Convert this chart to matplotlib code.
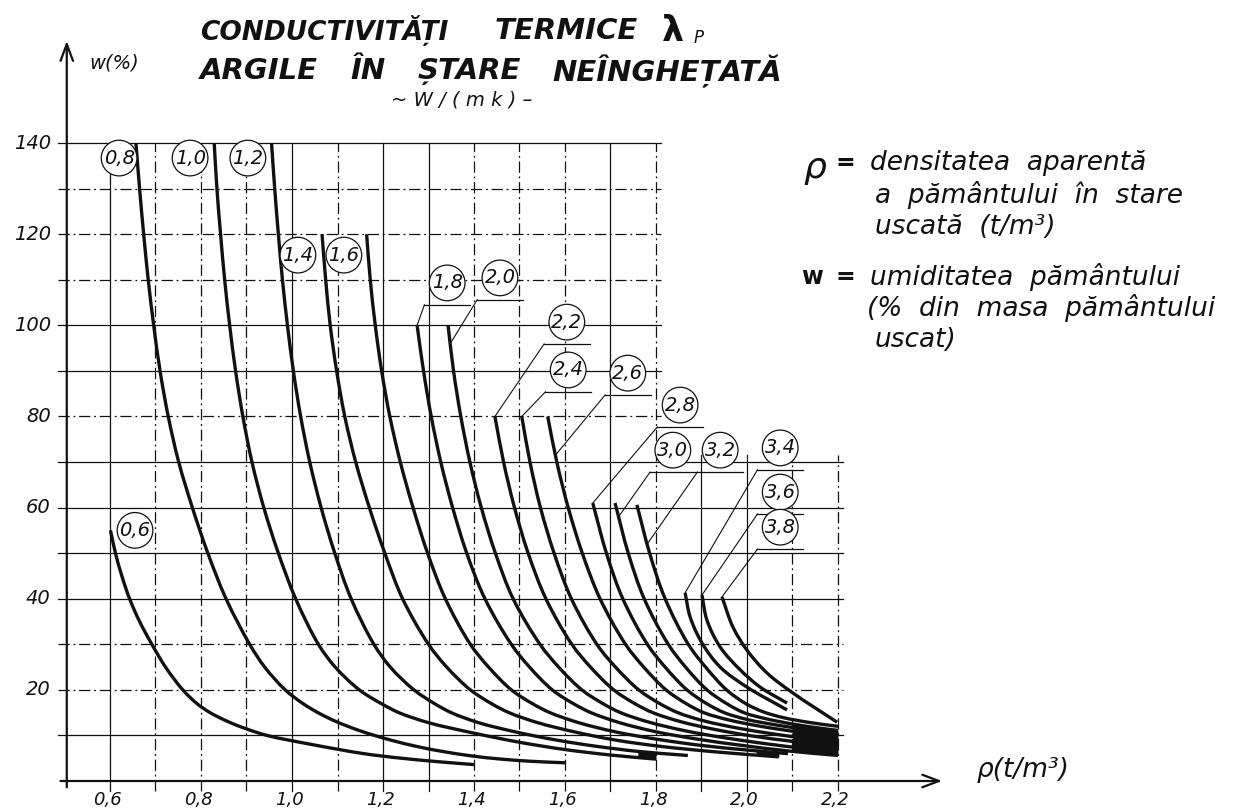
import numpy as np
import matplotlib
matplotlib.use("Agg")
import matplotlib.pyplot as plt
from matplotlib.path import Path
from matplotlib.patches import PathPatch

# ---- thermal conductivity curves (dry density rho [t/m3] vs moisture w [%]) ----
lam_labels = ["0,6", "0,8", "1,0", "1,2", "1,4", "1,6", "1,8", "2,0", "2,2",
              "2,4", "2,6", "2,8", "3,0", "3,2", "3,4", "3,6", "3,8"]

rho_06 = [0.601, 0.612, 0.626, 0.643, 0.665, 0.692, 0.722, 0.760, 0.791, 0.820,
          0.860, 0.898, 0.945, 1.044, 1.158, 1.240, 1.325, 1.400]
w_06 = [55, 50, 45, 40, 35, 30, 25, 20, 17, 15, 13, 11.5, 10, 8, 6, 5, 4.2, 3.6]

rho_08 = [0.657, 0.665, 0.674, 0.684, 0.696, 0.710, 0.728, 0.751, 0.781, 0.815,
          0.855, 0.907, 0.940, 0.985, 1.024, 1.057, 1.098, 1.150, 1.216, 1.278,
          1.330, 1.395, 1.460, 1.530, 1.600]
w_08 = [140, 130, 120, 110, 100, 90, 80, 70, 60, 50, 40, 30, 25, 20, 17, 15, 13,
        11, 9, 7.5, 6.5, 5.5, 4.8, 4.3, 4.0]

rho_10 = [0.829, 0.835, 0.843, 0.852, 0.863, 0.876, 0.892, 0.912, 0.938, 0.970,
          1.008, 1.058, 1.095, 1.148, 1.196, 1.235, 1.300, 1.400, 1.500, 1.600,
          1.700, 1.800]
w_10 = [140, 130, 120, 110, 100, 90, 80, 70, 60, 50, 40, 30, 25, 20, 17, 15,
        12.8, 10.5, 8.5, 6.9, 5.7, 4.8]

rho_12 = [0.955, 0.962, 0.970, 0.979, 0.990, 1.003, 1.019, 1.039, 1.064, 1.094,
          1.130, 1.180, 1.216, 1.268, 1.313, 1.350, 1.410, 1.490, 1.580, 1.670,
          1.760, 1.870]
w_12 = [140, 130, 120, 110, 100, 90, 80, 70, 60, 50, 40, 30, 25, 20, 17, 15,
        12.8, 10.8, 9, 7.6, 6.5, 5.6]

rho_14 = [1.066, 1.074, 1.084, 1.098, 1.116, 1.140, 1.170, 1.204, 1.243, 1.300,
          1.340, 1.392, 1.438, 1.477, 1.540, 1.620, 1.710, 1.810, 1.930, 2.070]
w_14 = [120, 110, 100, 90, 80, 70, 60, 50, 40, 30, 25, 20, 17, 15, 12.8, 10.8,
        9, 7.6, 6.4, 5.3]

rho_16 = [1.164, 1.172, 1.183, 1.197, 1.215, 1.238, 1.266, 1.298, 1.337, 1.392,
          1.432, 1.482, 1.528, 1.567, 1.630, 1.710, 1.800, 1.900, 2.000, 2.090]
w_16 = [120, 110, 100, 90, 80, 70, 60, 50, 40, 30, 25, 20, 17, 15, 12.8, 10.8,
        9.2, 7.8, 6.8, 6.0]

rho_18 = [1.275, 1.289, 1.306, 1.327, 1.353, 1.384, 1.424, 1.482, 1.522, 1.572,
          1.618, 1.657, 1.720, 1.800, 1.890, 1.990, 2.090, 2.200]
w_18 = [100, 90, 80, 70, 60, 50, 40, 30, 25, 20, 17, 15, 12.8, 10.8, 9.2, 7.8,
        6.6, 5.6]

rho_20 = [1.343, 1.355, 1.371, 1.391, 1.416, 1.447, 1.486, 1.545, 1.586, 1.637,
          1.683, 1.722, 1.785, 1.865, 1.950, 2.040, 2.130, 2.200]
w_20 = [100, 90, 80, 70, 60, 50, 40, 30, 25, 20, 17, 15, 12.9, 11, 9.5, 8.2,
        7.1, 6.4]

rho_22 = [1.446, 1.465, 1.489, 1.519, 1.558, 1.615, 1.656, 1.707, 1.753, 1.793,
          1.855, 1.930, 2.010, 2.100, 2.200]
w_22 = [80, 70, 60, 50, 40, 30, 25, 20, 17, 15, 13, 11.3, 9.9, 8.7, 7.6]

rho_24 = [1.505, 1.523, 1.546, 1.576, 1.614, 1.670, 1.711, 1.762, 1.808, 1.848,
          1.905, 1.980, 2.060, 2.140, 2.200]
w_24 = [80, 70, 60, 50, 40, 30, 25, 20, 17, 15, 13.2, 11.6, 10.3, 9.2, 8.5]

rho_26 = [1.562, 1.582, 1.607, 1.638, 1.677, 1.733, 1.773, 1.822, 1.866, 1.905,
          1.960, 2.030, 2.110, 2.200]
w_26 = [80, 70, 60, 50, 40, 30, 25, 20, 17, 15, 13.4, 12, 10.8, 9.8]

rho_28 = [1.661, 1.691, 1.727, 1.781, 1.820, 1.868, 1.911, 1.950, 2.000, 2.070,
          2.140, 2.200]
w_28 = [61, 50, 40, 30, 25, 20, 17, 15, 13.5, 12.2, 11.2, 10.5]

rho_30 = [1.710, 1.739, 1.774, 1.827, 1.865, 1.912, 1.955, 1.993, 2.040, 2.100,
          2.160, 2.200]
w_30 = [61, 50, 40, 30, 25, 20, 17, 15, 13.7, 12.5, 11.6, 11.1]

rho_32 = [1.758, 1.786, 1.820, 1.871, 1.909, 1.955, 1.997, 2.035, 2.080, 2.140, 2.200]
w_32 = [60.6, 50, 40, 30, 25, 20, 17, 15.2, 13.9, 12.8, 12.0]

rho_34 = [1.864, 1.875, 1.901, 1.941, 2.000, 2.088]
w_34 = [41.3, 36, 30.3, 25, 20.6, 15.6]

rho_36 = [1.901, 1.912, 1.941, 1.985, 2.029, 2.088]
w_36 = [40.8, 35.3, 29.4, 24.4, 20.6, 17.1]

rho_38 = [1.945, 1.969, 2.000, 2.044, 2.101, 2.198]
w_38 = [40.4, 33.8, 28.7, 23.7, 19.3, 12.9]

curves = [(rho_06, w_06), (rho_08, w_08), (rho_10, w_10), (rho_12, w_12),
          (rho_14, w_14), (rho_16, w_16), (rho_18, w_18), (rho_20, w_20),
          (rho_22, w_22), (rho_24, w_24), (rho_26, w_26), (rho_28, w_28),
          (rho_30, w_30), (rho_32, w_32), (rho_34, w_34), (rho_36, w_36),
          (rho_38, w_38)]

# axis ticks
x_ticks = [0.6, 0.8, 1.0, 1.2, 1.4, 1.6, 1.8, 2.0, 2.2]
x_tick_labels = ["0,6", "0,8", "1,0", "1,2", "1,4", "1,6", "1,8", "2,0", "2,2"]
y_ticks = [20, 40, 60, 80, 100, 120, 140]
y_tick_labels = ["20", "40", "60", "80", "100", "120", "140"]

# ---- layout ----
INK = "#111111"
W_PX, H_PX = 1236, 810
fig = plt.figure(figsize=(W_PX / 100, H_PX / 100), dpi=100)
fig.patch.set_facecolor("white")
ax = fig.add_axes([19 / W_PX, (H_PX - 808.34) / H_PX, 1046.5 / W_PX, (808.34 - 6.31) / H_PX])
ax.set_xlim(0.40, 2.70)
ax.set_ylim(-6, 170)
ax.axis("off")


def fx(px):
    return px / W_PX


def fy(py):
    return 1 - py / H_PX


# ---- grid (stepped outline) ----
dashdot = (0, (9, 3, 1.5, 3))
solid_x = {0.6, 1.0, 1.2, 1.3, 1.7, 1.9, 2.0}
for xv in np.round(np.arange(0.6, 2.21, 0.1), 1):
    top = 140 if xv <= 1.8 else 71.5
    ls = "-" if xv in solid_x else dashdot
    ax.plot([xv, xv], [-2.2, top], color=INK, lw=0.9, ls=ls, zorder=1)

solid_w = {140, 100, 90, 70, 60, 50, 40, 10}
for wv in range(10, 141, 10):
    right = 1.81 if wv > 70 else 2.21
    ls = "-" if wv in solid_w else dashdot
    ax.plot([0.485, right], [wv, wv], color=INK, lw=0.9, ls=ls, zorder=1)

# ---- axes with arrows ----
ax.annotate("", xy=(2.435, 0), xytext=(0.485, 0),
            arrowprops=dict(arrowstyle="->,head_length=1.2,head_width=0.45",
                            color=INK, lw=1.6), zorder=3)
ax.annotate("", xy=(0.505, 163), xytext=(0.505, -2),
            arrowprops=dict(arrowstyle="->,head_length=1.2,head_width=0.45",
                            color=INK, lw=1.6), zorder=3)

for xv, lab in zip(x_ticks, x_tick_labels):
    ax.text(xv - 0.005, -4.2, lab, ha="center", va="center", fontsize=13,
            style="italic", color=INK)
for wv, lab in zip(y_ticks, y_tick_labels):
    ax.text(0.47, wv, lab, ha="right", va="center", fontsize=14,
            style="italic", color=INK)

fig.text(fx(114), fy(63), "w(%)", ha="center", va="center", fontsize=14,
         style="italic", color=INK)
fig.text(fx(1023), fy(770), "ρ(t/m³)", ha="center", va="center", fontsize=19,
         style="italic", color=INK)

# screen scale of one data unit (px), used to smooth curves evenly on the page
SX = 455.0
SY = 4.557


def smooth_path(xs, ys):
    """Centripetal Catmull-Rom through the points, as cubic Bezier segments."""
    P = np.column_stack([np.asarray(xs, float) * SX, np.asarray(ys, float) * SY])
    n = len(P)
    d = np.sqrt(np.linalg.norm(np.diff(P, axis=0), axis=1))
    d = np.maximum(d, 1e-6)
    m = np.zeros_like(P)
    m[0] = (P[1] - P[0]) / d[0]
    m[-1] = (P[-1] - P[-2]) / d[-1]
    for i in range(1, n - 1):
        d0, d1 = d[i - 1], d[i]
        m[i] = ((P[i] - P[i - 1]) / d0 - (P[i + 1] - P[i - 1]) / (d0 + d1)
                + (P[i + 1] - P[i]) / d1)
    verts = [P[0]]
    codes = [Path.MOVETO]
    for i in range(n - 1):
        verts += [P[i] + m[i] * d[i] / 3.0, P[i + 1] - m[i + 1] * d[i] / 3.0, P[i + 1]]
        codes += [Path.CURVE4] * 3
    V = np.array(verts)
    V[:, 0] /= SX
    V[:, 1] /= SY
    return Path(V, codes)


for xs, ys in curves:
    ax.add_patch(PathPatch(smooth_path(xs, ys), fc="none", ec=INK, lw=2.4,
                           capstyle="butt", joinstyle="round", zorder=4))


# ink where the curves run together near their ends
def fill_between_curves(lo, hi, x0, x1):
    xg = np.linspace(x0, x1, 30)
    ylo = np.interp(xg, lo[0], lo[1])
    yhi = np.interp(xg, hi[0], hi[1])
    ax.fill_between(xg, ylo, yhi, color=INK, lw=0, zorder=4)


fill_between_curves((rho_10, w_10), (rho_12, w_12), 1.76, 1.80)
fill_between_curves((rho_14, w_14), (rho_16, w_16), 2.02, 2.07)
fill_between_curves((rho_18, w_18), (rho_30, w_30), 2.10, 2.20)

# ---- circled curve labels ----
label_pos = {
    "0,6": (0.655, 55.0), "0,8": (0.620, 136.7), "1,0": (0.776, 136.7),
    "1,2": (0.903, 136.7), "1,4": (1.013, 115.4), "1,6": (1.114, 115.4),
    "1,8": (1.341, 109.3), "2,0": (1.457, 110.4), "2,2": (1.604, 100.7),
    "2,4": (1.607, 90.2), "2,6": (1.738, 89.5), "2,8": (1.853, 82.5),
    "3,0": (1.837, 72.6), "3,2": (1.941, 72.6), "3,4": (2.073, 73.1),
    "3,6": (2.073, 63.4), "3,8": (2.073, 55.7),
}
# labels joined to their curve by a leader; value = moisture where the leader meets the curve
leader_w = {"1,8": None, "2,0": 96, "2,2": None, "2,4": None, "2,6": 71.5,
            "2,8": None, "3,0": 58, "3,2": 52, "3,4": None, "3,6": None,
            "3,8": None}

for lab, (xs, ys) in zip(lam_labels, curves):
    lx, ly = label_pos[lab]
    ax.text(lx, ly, lab, ha="center", va="center", fontsize=14,
            style="italic", color=INK, zorder=5,
            bbox=dict(boxstyle="circle,pad=0.12", fc="white", ec=INK, lw=0.9))
    if lab in leader_w:
        tw = leader_w[lab]
        if tw is None:
            tx, ty = xs[0], ys[0]
        else:
            tx = float(np.interp(tw, ys[::-1], xs[::-1]))
            ty = tw
        uy = ly - 4.8
        ax.plot([lx - 0.05, lx + 0.05], [uy, uy], color=INK, lw=0.9, zorder=5)
        ax.plot([lx - 0.05, tx], [uy, ty], color=INK, lw=0.8, zorder=5)

# ---- title (word by word, hand-lettered spacing) ----
title_kw = dict(fontsize=21, fontweight="bold", style="italic", ha="left",
                va="center", color=INK)
fig.text(fx(200), fy(31), "CONDUCTIVITĂȚI", **dict(title_kw, fontsize=19))
fig.text(fx(495), fy(31), "TERMICE", **title_kw)
fig.text(fx(662), fy(31), "λ", fontsize=25, fontweight="bold", ha="left",
         va="center", color=INK)
fig.text(fx(694), fy(38), "P", fontsize=12, style="italic", ha="left",
         va="center", color=INK)
for word, px in [("ARGILE", 200), ("ÎN", 350), ("ȘTARE", 418), ("NEÎNGHEȚATĂ", 552)]:
    fig.text(fx(px), fy(71), word, **title_kw)
fig.text(fx(462), fy(100), "~ W / ( m k ) –", fontsize=14, style="italic",
         ha="center", va="center", color=INK)

# ---- symbol explanations ----
leg_kw = dict(fontsize=19, style="italic", ha="left", va="center", color=INK)
fig.text(fx(815), fy(168), "ρ", fontsize=26, style="italic", ha="center",
         va="center", color=INK)
fig.text(fx(845), fy(163), "=", fontsize=17, fontweight="bold", ha="center",
         va="center", color=INK)
fig.text(fx(870), fy(163), "densitatea  aparentă", **leg_kw)
fig.text(fx(875), fy(195), "a  pământului  în  stare", **leg_kw)
fig.text(fx(875), fy(227), "uscată  (t/m³)", **leg_kw)
fig.text(fx(812), fy(277), "w", fontsize=17, fontweight="bold", ha="center",
         va="center", color=INK)
fig.text(fx(845), fy(277), "=", fontsize=17, fontweight="bold", ha="center",
         va="center", color=INK)
fig.text(fx(870), fy(277), "umiditatea  pământului", **leg_kw)
fig.text(fx(867), fy(308), "(%  din  masa  pământului", **leg_kw)
fig.text(fx(875), fy(340), "uscat)", **leg_kw)

fig.savefig("out.png", dpi=100, facecolor="white")
